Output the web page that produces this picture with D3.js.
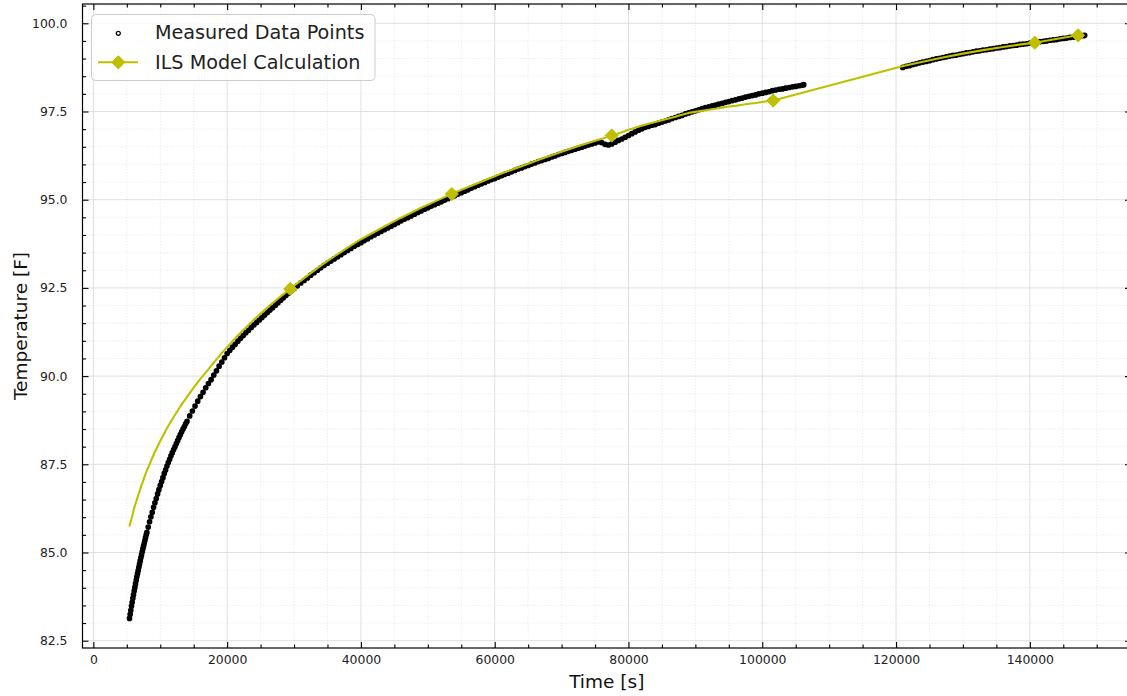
<!DOCTYPE html>
<html>
<head>
<meta charset="utf-8">
<script src="https://d3js.org/d3.v7.min.js"></script>
<style>
body { margin: 0; background: #fff; }
svg text { font-family: "DejaVu Sans", sans-serif; }
</style>
</head>
<body>
<div id="chart"></div>
<script>
// measured temperatures [time s, temp F], before the logging gap
var measuredBeforeGap = [
    [5400,83.13],[5500,83.25],[5600,83.36],[5700,83.48],[5800,83.59],[5900,83.70],[6000,83.80],[6100,83.91],
    [6200,84.01],[6300,84.11],[6400,84.21],[6500,84.31],[6600,84.40],[6700,84.49],[6800,84.58],[6900,84.67],
    [7000,84.76],[7100,84.85],[7200,84.93],[7300,85.02],[7400,85.10],[7500,85.18],[7600,85.26],[7700,85.34],
    [7800,85.42],[7900,85.50],[8000,85.57],
    [8200,85.72],[8400,85.87],[8600,86.01],[8800,86.14],[9000,86.28],[9200,86.41],[9400,86.53],[9600,86.66],
    [9800,86.78],[10000,86.90],[10200,87.01],[10400,87.12],[10600,87.24],[10800,87.34],[11000,87.45],[11200,87.55],
    [11400,87.64],[11600,87.74],[11800,87.83],[12000,87.92],[12200,88.00],[12400,88.09],[12600,88.17],[12800,88.26],
    [13000,88.34],[13200,88.42],[13400,88.50],[13600,88.57],[13800,88.65],[14000,88.72],
    [14400,88.87],[14800,89.01],[15200,89.15],[15600,89.29],[16000,89.42],[16400,89.54],[16800,89.67],[17200,89.79],
    [17600,89.90],[18000,90.03],[18400,90.15],[18800,90.28],[19200,90.40],[19600,90.52],[20000,90.64],[20400,90.73],
    [20800,90.82],[21200,90.90],[21600,90.99],[22000,91.07],[22400,91.15],[22800,91.23],[23200,91.30],[23600,91.38],
    [24000,91.45],[24400,91.52],[24800,91.59],[25200,91.66],[25600,91.73],[26000,91.80],[26400,91.87],[26800,91.94],
    [27200,92.01],[27600,92.08],[28000,92.15],[28400,92.22],[28800,92.29],[29200,92.35],[29600,92.42],[30000,92.48],
    [30500,92.56],[31000,92.64],[31500,92.71],[32000,92.78],[32500,92.86],[33000,92.93],[33500,93.00],[34000,93.07],
    [34500,93.14],[35000,93.20],[35500,93.26],[36000,93.32],[36500,93.38],[37000,93.44],[37500,93.50],[38000,93.56],
    [38500,93.62],[39000,93.68],[39500,93.73],[40000,93.78],[40500,93.84],[41000,93.89],[41500,93.95],[42000,94.00],
    [42500,94.05],[43000,94.10],[43500,94.15],[44000,94.20],[44500,94.25],[45000,94.30],[45500,94.35],[46000,94.40],
    [46500,94.45],[47000,94.49],[47500,94.54],[48000,94.59],[48500,94.64],[49000,94.68],[49500,94.73],[50000,94.77],
    [50500,94.82],[51000,94.86],[51500,94.90],[52000,94.94],[52500,94.99],[53000,95.03],[53500,95.07],[54000,95.11],
    [54500,95.16],[55000,95.20],[55500,95.24],[56000,95.28],[56500,95.33],[57000,95.37],[57500,95.41],[58000,95.45],
    [58500,95.49],[59000,95.53],[59500,95.57],[60000,95.60],[60500,95.64],[61000,95.68],[61500,95.72],[62000,95.75],
    [62500,95.79],[63000,95.83],[63500,95.87],[64000,95.90],[64500,95.94],[65000,95.97],[65500,96.01],[66000,96.04],
    [66500,96.08],[67000,96.11],[67500,96.14],[68000,96.17],[68500,96.21],[69000,96.24],[69500,96.28],[70000,96.31],
    [70500,96.34],[71000,96.37],[71500,96.40],[72000,96.43],[72500,96.46],[73000,96.49],[73500,96.52],[74000,96.55],
    [74500,96.58],[75000,96.61],[75500,96.64],[76000,96.62],[76500,96.57],[77000,96.55],[77500,96.58],[78000,96.63],
    [78500,96.68],[79000,96.72],[79500,96.77],[80000,96.82],[80500,96.87],[81000,96.92],[81500,96.97],[82000,97.01],
    [82500,97.05],[83000,97.08],[83500,97.11],[84000,97.13],[84500,97.17],[85000,97.20],[85500,97.23],[86000,97.26],
    [86500,97.30],[87000,97.33],[87500,97.36],[88000,97.39],[88500,97.43],[89000,97.46],[89500,97.49],[90000,97.52],
    [90500,97.55],[91000,97.58],[91500,97.61],[92000,97.63],[92500,97.66],[93000,97.68],[93500,97.71],[94000,97.73],
    [94500,97.76],[95000,97.78],[95500,97.81],[96000,97.83],[96500,97.86],[97000,97.88],[97500,97.91],[98000,97.93],
    [98500,97.95],[99000,97.97],[99500,98.00],[100000,98.02],[100500,98.04],[101000,98.06],[101500,98.09],[102000,98.11],
    [102500,98.13],[103000,98.14],[103500,98.16],[104000,98.18],[104500,98.20],[105000,98.21],[105500,98.23],[106000,98.25],
    [106200,98.26]
];

// measured temperatures after the gap
var measuredAfterGap = [
    [121000,98.75],[121500,98.78],[122000,98.80],[122500,98.83],[123000,98.85],[123500,98.88],[124000,98.90],[124500,98.92],
    [125000,98.94],[125500,98.97],[126000,98.99],[126500,99.01],[127000,99.03],[127500,99.05],[128000,99.07],[128500,99.09],
    [129000,99.10],[129500,99.12],[130000,99.14],[130500,99.16],[131000,99.17],[131500,99.19],[132000,99.21],[132500,99.22],
    [133000,99.24],[133500,99.25],[134000,99.27],[134500,99.28],[135000,99.30],[135500,99.31],[136000,99.33],[136500,99.34],
    [137000,99.36],[137500,99.37],[138000,99.38],[138500,99.40],[139000,99.41],[139500,99.42],[140000,99.44],[140500,99.45],
    [141000,99.46],[141500,99.48],[142000,99.49],[142500,99.50],[143000,99.52],[143500,99.53],[144000,99.54],[144500,99.56],
    [145000,99.57],[145500,99.58],[146000,99.60],[146500,99.61],[147000,99.62],[147500,99.64],[148000,99.65],[148200,99.66]
];

// ILS model line [time s, temp F]
var modelCurve = [
    [5400,85.74],[5600,85.89],[5800,86.03],[6000,86.19],[6200,86.32],[6400,86.44],[6600,86.56],[6800,86.68],
    [7000,86.79],[7200,86.91],[7400,87.01],[7600,87.12],[7800,87.22],[8000,87.32],[8500,87.55],[9000,87.77],
    [9500,87.97],[10000,88.16],[11000,88.52],[12000,88.84],[13000,89.14],[14000,89.41],[15000,89.67],[16000,89.92],
    [17000,90.15],[18000,90.38],[19000,90.61],[20000,90.82],[21000,91.03],[22000,91.23],[23000,91.41],[24000,91.60],
    [25000,91.77],[26000,91.94],[27000,92.10],[28000,92.26],[29000,92.41],[29430,92.47],[30000,92.56],[32000,92.85],
    [34000,93.13],[36000,93.39],[38000,93.64],[40000,93.88],[43000,94.19],[46000,94.49],[49000,94.77],[52000,95.03],
    [53590,95.16],[55000,95.28],[58000,95.51],[61000,95.74],[64000,95.95],[67000,96.16],[70000,96.36],[73000,96.55],
    [76000,96.73],[77490,96.82],[78000,96.85],[79000,96.91],[80000,96.98],[81000,97.04],[82000,97.10],[83000,97.15],
    [84000,97.20],[85000,97.25],[86000,97.30],[87000,97.35],[88000,97.41],[89000,97.46],[90000,97.49],[91000,97.52],
    [92000,97.55],[93000,97.58],[94000,97.61],[95000,97.64],[96000,97.66],[97000,97.69],[98000,97.72],[99000,97.74],
    [100000,97.77],[101000,97.80],[101640,97.81],[121060,98.79],[124000,98.91],[127000,99.03],[130000,99.14],
    [133000,99.24],[136000,99.33],[139000,99.41],[140740,99.45],[142000,99.49],[145000,99.59],[147210,99.66]
];

// diamond markers on the model line
var modelMarkers = [
    [29430,92.47],[53590,95.16],[77490,96.82],[101640,97.81],[140740,99.45],[147210,99.66]
];

var xTicks = [0, 20000, 40000, 60000, 80000, 100000, 120000, 140000];
var yTicks = [82.5, 85.0, 87.5, 90.0, 92.5, 95.0, 97.5, 100.0];
var legendNames = ["Measured Data Points", "ILS Model Calculation"];
var xLabel = "Time [s]";
var yLabel = "Temperature [F]";

var modelColor = "#bfbf00";
var width = 1127, height = 696;
var plot = {left: 82.5, right: 1131, top: 4, bottom: 648};

var svg = d3.select("#chart").append("svg")
    .attr("width", width)
    .attr("height", height);

var xscale = d3.scaleLinear().domain([-1625, 155125]).range([plot.left, plot.right]);
var yscale = d3.scaleLinear().domain([82.293, 100.547]).range([plot.bottom, plot.top]);

var xMinor = d3.range(0, 155001, 5000).filter(function (d) { return d % 20000 != 0; });
var yMinor = d3.range(82.5, 100.6, 0.5).filter(function (d) {
    return Math.abs(d / 2.5 - Math.round(d / 2.5)) > 0.01;
});

svg.append("clipPath").attr("id", "plot-clip")
    .append("rect")
    .attr("x", plot.left).attr("y", plot.top)
    .attr("width", plot.right - plot.left).attr("height", plot.bottom - plot.top);

//grid, minor first then major
var grid = svg.append("g").attr("id", "grid");
grid.selectAll("line.xminor").data(xMinor).enter().append("line")
    .attr("class", "xminor")
    .attr("x1", function (d) { return xscale(d); })
    .attr("x2", function (d) { return xscale(d); })
    .attr("y1", plot.top).attr("y2", plot.bottom);
grid.selectAll("line.yminor").data(yMinor).enter().append("line")
    .attr("class", "yminor")
    .attr("x1", plot.left).attr("x2", plot.right)
    .attr("y1", function (d) { return yscale(d); })
    .attr("y2", function (d) { return yscale(d); });
grid.selectAll("line.xminor, line.yminor")
    .attr("stroke", "#e9e9e9")
    .attr("stroke-width", 0.8)
    .attr("stroke-dasharray", "1.5,1.5");

grid.selectAll("line.xmajor").data(xTicks).enter().append("line")
    .attr("class", "xmajor")
    .attr("x1", function (d) { return xscale(d); })
    .attr("x2", function (d) { return xscale(d); })
    .attr("y1", plot.top).attr("y2", plot.bottom);
grid.selectAll("line.ymajor").data(yTicks).enter().append("line")
    .attr("class", "ymajor")
    .attr("x1", plot.left).attr("x2", plot.right)
    .attr("y1", function (d) { return yscale(d); })
    .attr("y2", function (d) { return yscale(d); });
grid.selectAll("line.xmajor, line.ymajor")
    .attr("stroke", "#d8d8d8")
    .attr("stroke-width", 0.8);

//measured points; the rings overlap so tightly they read as one band
var data = svg.append("g").attr("clip-path", "url(#plot-clip)");
data.append("g").attr("id", "measured")
    .selectAll("circle")
    .data(measuredBeforeGap.concat(measuredAfterGap))
    .enter()
    .append("circle")
    .attr("cx", function (d) { return xscale(d[0]); })
    .attr("cy", function (d) { return yscale(d[1]); })
    .attr("r", 1.5)
    .attr("fill", "none")
    .attr("stroke", "#000")
    .attr("stroke-width", 2.7);

//model line and markers
var line = d3.line()
    .x(function (d) { return xscale(d[0]); })
    .y(function (d) { return yscale(d[1]); });

data.append("path")
    .datum(modelCurve)
    .attr("d", line)
    .attr("fill", "none")
    .attr("stroke", modelColor)
    .attr("stroke-width", 2.1)
    .attr("stroke-linejoin", "round");

var diamond = "M0,-6.6L6.6,0L0,6.6L-6.6,0Z";
data.append("g").selectAll("path")
    .data(modelMarkers)
    .enter()
    .append("path")
    .attr("d", diamond)
    .attr("transform", function (d) {
        return "translate(" + xscale(d[0]) + "," + yscale(d[1]) + ")";
    })
    .attr("fill", modelColor)
    .attr("stroke", modelColor)
    .attr("stroke-width", 1);

//axes, ticks point inward on every side
function styleAxis(g) {
    g.select(".domain").remove();
    g.selectAll(".tick line").attr("stroke", "#000").attr("stroke-width", 1.1);
    g.selectAll(".tick text").attr("font-size", "12.4px").attr("fill", "#222");
}

svg.append("g")
    .attr("transform", "translate(0," + plot.bottom + ")")
    .call(d3.axisBottom(xscale).tickValues(xTicks).tickSizeInner(-6).tickSizeOuter(0)
        .tickPadding(7).tickFormat(d3.format("d")))
    .call(styleAxis);
svg.append("g")
    .attr("transform", "translate(0," + plot.bottom + ")")
    .call(d3.axisBottom(xscale).tickValues(xMinor).tickSizeInner(-3.5).tickSizeOuter(0).tickFormat(""))
    .call(styleAxis);
svg.append("g")
    .attr("transform", "translate(0," + plot.top + ")")
    .call(d3.axisTop(xscale).tickValues(xTicks).tickSizeInner(-6).tickSizeOuter(0).tickFormat(""))
    .call(styleAxis);
svg.append("g")
    .attr("transform", "translate(0," + plot.top + ")")
    .call(d3.axisTop(xscale).tickValues(xMinor).tickSizeInner(-3.5).tickSizeOuter(0).tickFormat(""))
    .call(styleAxis);

svg.append("g")
    .attr("transform", "translate(" + plot.left + ",0)")
    .call(d3.axisLeft(yscale).tickValues(yTicks).tickSizeInner(-6).tickSizeOuter(0)
        .tickPadding(15).tickFormat(d3.format(".1f")))
    .call(styleAxis);
svg.append("g")
    .attr("transform", "translate(" + plot.left + ",0)")
    .call(d3.axisLeft(yscale).tickValues(yMinor).tickSizeInner(-3.5).tickSizeOuter(0).tickFormat(""))
    .call(styleAxis);
svg.append("g")
    .attr("transform", "translate(" + plot.right + ",0)")
    .call(d3.axisRight(yscale).tickValues(yTicks).tickSizeInner(-6).tickSizeOuter(0).tickFormat(""))
    .call(styleAxis);
svg.append("g")
    .attr("transform", "translate(" + plot.right + ",0)")
    .call(d3.axisRight(yscale).tickValues(yMinor).tickSizeInner(-3.5).tickSizeOuter(0).tickFormat(""))
    .call(styleAxis);

//frame
svg.append("rect")
    .attr("x", plot.left).attr("y", plot.top)
    .attr("width", plot.right - plot.left).attr("height", plot.bottom - plot.top)
    .attr("fill", "none")
    .attr("stroke", "#000")
    .attr("stroke-width", 1.2);

//axis labels
svg.append("text")
    .attr("x", (plot.left + plot.right) / 2)
    .attr("y", 688)
    .attr("text-anchor", "middle")
    .attr("font-size", "18.5px")
    .attr("fill", "#111")
    .text(xLabel);
svg.append("text")
    .attr("transform", "translate(27," + (plot.top + plot.bottom) / 2 + ") rotate(-90)")
    .attr("text-anchor", "middle")
    .attr("font-size", "18.5px")
    .attr("fill", "#111")
    .text(yLabel);

//legend
var legend = svg.append("g").attr("id", "legend");
legend.append("rect")
    .attr("x", 91.5).attr("y", 14.5)
    .attr("width", 283.5).attr("height", 66)
    .attr("rx", 4)
    .attr("fill", "#fff")
    .attr("fill-opacity", 0.8)
    .attr("stroke", "#cccccc")
    .attr("stroke-width", 1);
legend.append("circle")
    .attr("cx", 118.3).attr("cy", 33.3)
    .attr("r", 2)
    .attr("fill", "none")
    .attr("stroke", "#000")
    .attr("stroke-width", 1.2);
legend.append("line")
    .attr("x1", 98).attr("x2", 138)
    .attr("y1", 62.3).attr("y2", 62.3)
    .attr("stroke", modelColor)
    .attr("stroke-width", 2.1);
legend.append("path")
    .attr("d", diamond)
    .attr("transform", "translate(118.3,62.3)")
    .attr("fill", modelColor)
    .attr("stroke", modelColor)
    .attr("stroke-width", 1);
legend.selectAll("text")
    .data(legendNames)
    .enter()
    .append("text")
    .attr("x", 155)
    .attr("y", function (d, i) { return 38.6 + i * 30; })
    .attr("font-size", "19.2px")
    .attr("fill", "#222")
    .text(function (d) { return d; });
</script>
</body>
</html>
